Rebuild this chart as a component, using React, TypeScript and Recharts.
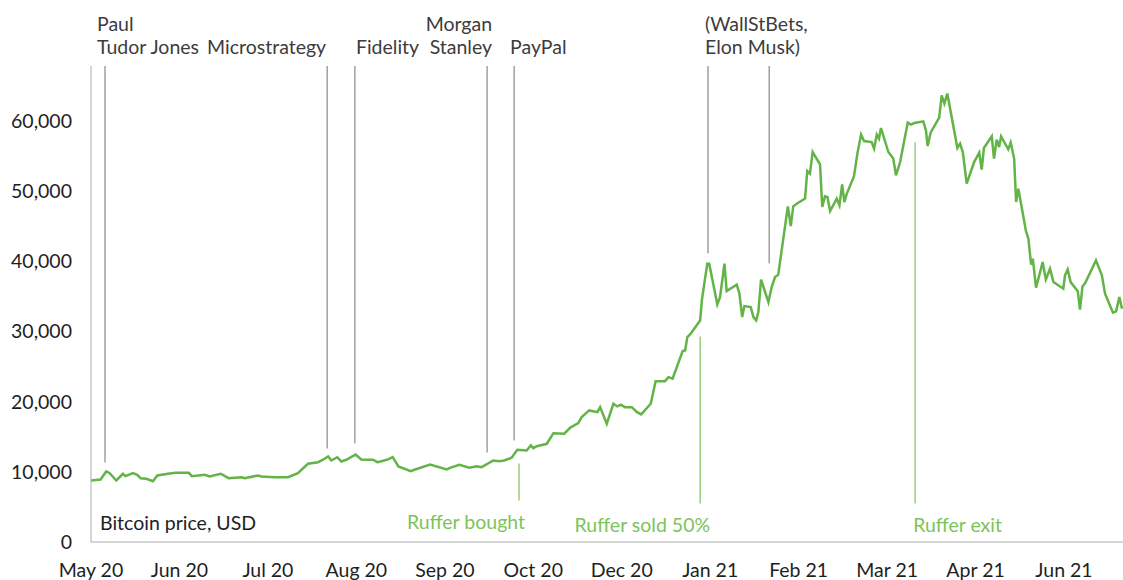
import { LineChart, Line, XAxis, YAxis, ReferenceLine } from 'recharts'

// days since 1 May 2020
const days = [
  0, 3.9, 6.2, 7.6, 10.3, 13.0, 14.0, 17.1, 18.8, 20.2, 22.5, 25.2, 27.0, 31.3, 34.3, 39.8, 41.1, 46.3, 48.3, 52.8,
  56.0, 61.2, 62.6, 68.0, 69.3, 74.8, 80.2, 84.2, 88.3, 92.4, 95.1, 96.5, 97.8, 100.2, 101.9, 103.9, 107.7, 110.0,
  112.0, 114.8, 116.5, 118.2, 120.9, 122.8, 125.1, 130.1, 131.9, 138.0, 144.8, 146.1, 149.9, 154.0, 157.0, 159.0,
  163.7, 166.2, 168.1, 171.2, 173.5, 177.3, 179.0, 180.0, 181.4, 185.5, 188.2, 192.6, 195.0, 198.3, 199.7, 202.8,
  206.1, 207.2, 209.9, 212.6, 214.2, 215.6, 217.3, 220.1, 222.1, 223.9, 227.8, 229.8, 233.6, 235.0, 236.7, 240.8,
  241.8, 242.7, 243.8, 247.9, 248.6, 250.8, 251.6, 254.9, 256.0, 257.8, 258.7, 262.8, 263.9, 265.0, 265.9, 268.5,
  269.6, 270.7, 271.6, 272.7, 275.7, 277.0, 278.4, 279.7, 283.6, 284.8, 285.8, 287.2, 290.6, 291.5, 292.6, 293.7,
  296.7, 297.6, 298.7, 299.7, 300.8, 303.5, 304.6, 305.7, 306.6, 307.6, 310.5, 311.9, 313.4, 314.6, 317.7, 318.7,
  319.8, 320.7, 321.5, 324.5, 326.5, 327.6, 329.3, 332.4, 333.7, 335.1, 338.7, 339.8, 340.5, 341.7, 345.2, 346.2,
  347.3, 348.5, 352.6, 353.7, 354.8, 356.4, 359.4, 361.5, 362.5, 363.4, 366.6, 367.5, 368.6, 369.6, 370.4, 373.3,
  374.3, 375.7, 376.5, 377.4, 380.5, 381.5, 382.6, 383.3, 384.6, 387.3, 388.6, 390.3, 391.7, 395.7, 396.4, 397.5,
  398.7, 401.6, 402.5, 403.5, 404.6, 409.0, 411.4, 412.7, 415.9, 417.2, 418.5, 419.6,
]

const prices = [
  8760, 8910, 10050, 9800, 8760, 9720, 9380, 9800, 9580, 9090, 9010, 8660, 9480, 9720, 9860, 9860, 9380, 9580, 9330, 9720,
  9090, 9230, 9090, 9480, 9330, 9230, 9230, 9800, 11140, 11370, 11860, 12180, 11610, 12080, 11470, 11710, 12470, 11760,
  11710, 11710, 11370, 11510, 11760, 12080, 10760, 10090, 10330, 11040, 10330, 10570, 11000, 10570, 10800, 10660,
  11610, 11510, 11610, 12000, 13140, 13040, 13750, 13370, 13650, 13990, 15500, 15420, 16270, 16930, 17780, 18740,
  18500, 19210, 16840, 19690, 19310, 19550, 19210, 19210, 18530, 18170, 19690, 22910, 22910, 23480, 23260, 27190,
  27290, 29180, 29570, 31560, 34410, 39640, 39640, 33840, 34880, 39640, 35740, 36650, 35370, 32030, 33600, 33460,
  32030, 31560, 32750, 37360, 34170, 36310, 37730, 38080, 47810, 45000, 47810, 48190, 48910, 52840, 52470, 55550,
  53790, 47710, 49230, 49130, 47140, 48910, 47950, 50940, 48420, 49620, 52080, 55320, 58030, 57110, 56970, 56030,
  58030, 57460, 58970, 55550, 54610, 52230, 54120, 59740, 59450, 59680, 59920, 58640, 56400, 58310, 60450, 63630,
  62440, 63870, 56120, 56740, 55550, 51040, 54120, 55460, 53040, 56120, 57780, 54610, 57310, 56260, 57780, 55930,
  56890, 54610, 48420, 50330, 44290, 43210, 39500, 40360, 36220, 39870, 37410, 38930, 37020, 36080, 37980, 38830,
  37020, 35700, 33090, 36410, 36880, 40110, 37980, 35370, 32660, 32850, 34880, 33230,
]

const tickDays = [0, 36, 72, 108, 144, 180, 216, 252, 288, 324, 360, 396]
const tickLabels = [
  'May 20', 'Jun 20', 'Jul 20', 'Aug 20', 'Sep 20', 'Oct 20',
  'Dec 20', 'Jan 21', 'Feb 21', 'Mar 21', 'Apr 21', 'Jun 21',
]
const yTicks = [0, 10000, 20000, 30000, 40000, 50000, 60000]
const yMax = 67800

// news events: day, price level where the line stops, label lines
const events = [
  { day: 5.7, low: 11330, text: ['Paul', 'Tudor Jones'], anchor: 'start', dx: -8 },
  { day: 96.1, low: 13320, text: ['Microstrategy'], anchor: 'end', dx: -1 },
  { day: 107.4, low: 14040, text: ['Fidelity'], anchor: 'start', dx: 1 },
  { day: 161.2, low: 12750, text: ['Morgan', 'Stanley'], anchor: 'end', dx: 5 },
  { day: 172.2, low: 14460, text: ['PayPal'], anchor: 'start', dx: -4 },
  { day: 251.1, low: 41110, text: ['(WallStBets,', 'Elon Musk)'], anchor: 'start', dx: -3 },
  { day: 276.0, low: 39690, text: [], anchor: 'start', dx: 0 },
]

// Ruffer trades: day, top and bottom of the marker
const trades = [
  { day: 174.2, high: 11190, low: 5910, text: 'Ruffer bought', anchor: 'end', dx: 6 },
  { day: 247.9, high: 29280, low: 5490, text: 'Ruffer sold 50%', anchor: 'end', dx: 10 },
  { day: 335.4, high: 56930, low: 5490, text: 'Ruffer exit', anchor: 'start', dx: -2 },
]

const data = days.map((d, i) => ({ day: d, price: prices[i] }))

const FONT = 'Lato, sans-serif'
const FS = 19.5
const LINE_GREEN = '#62b446'
const LIGHT_GREEN = '#7dc35b'

const fmt = (v: number) => v.toLocaleString('en-US')

export default function App() {
  return (
    <div style={{ position: 'absolute', left: 0, top: 0, width: 1123, height: 580, background: '#fff', fontFamily: FONT }}>
      <LineChart width={1123} height={580} data={data} margin={{ top: 66, right: 0, left: 0, bottom: 8 }}>
        <XAxis
          type="number"
          dataKey="day"
          domain={[0, 420]}
          ticks={tickDays}
          interval={0}
          tickFormatter={(v: number) => tickLabels[tickDays.indexOf(v)] ?? ''}
          tickLine={false}
          tickMargin={15}
          height={30}
          stroke="#aaaaaa"
          tick={{ fill: '#1e1e1e', fontSize: FS, fontFamily: FONT }}
        />
        <YAxis
          type="number"
          domain={[0, yMax]}
          ticks={yTicks}
          interval={0}
          tickFormatter={fmt}
          tickLine={false}
          tickMargin={13}
          width={91}
          stroke="#aaaaaa"
          tick={{ fill: '#1e1e1e', fontSize: FS, fontFamily: FONT }}
        />

        {events.map((e, i) => (
          <ReferenceLine
            key={'e' + i}
            segment={[{ x: e.day, y: yMax }, { x: e.day, y: e.low }]}
            stroke="#707070"
            strokeWidth={1}
            label={(p: any) => {
              const vb = p.viewBox
              const n = e.text.length
              return (
                <text
                  x={vb.x + e.dx}
                  textAnchor={e.anchor}
                  fill="#3c3c3c"
                  fontSize={FS}
                  fontFamily={FONT}
                >
                  {e.text.map((t, j) => (
                    <tspan key={j} x={vb.x + e.dx} y={vb.y - 20 - (n - 1 - j) * 23} dominantBaseline="central">
                      {t}
                    </tspan>
                  ))}
                </text>
              )
            }}
          />
        ))}

        {trades.map((t, i) => (
          <ReferenceLine
            key={'t' + i}
            segment={[{ x: t.day, y: t.high }, { x: t.day, y: t.low }]}
            stroke={LIGHT_GREEN}
            strokeWidth={1.2}
            label={(p: any) => {
              const vb = p.viewBox
              return (
                <text
                  x={vb.x + t.dx}
                  y={vb.y + vb.height + 21}
                  textAnchor={t.anchor}
                  dominantBaseline="central"
                  fill={LIGHT_GREEN}
                  fontSize={FS}
                  fontFamily={FONT}
                >
                  {t.text}
                </text>
              )
            }}
          />
        ))}

        <Line
          type="linear"
          dataKey="price"
          stroke={LINE_GREEN}
          strokeWidth={2.5}
          dot={false}
          isAnimationActive={false}
        />
      </LineChart>
      <div
        style={{
          position: 'absolute',
          left: 100,
          top: 512,
          fontSize: FS,
          color: '#1e1e1e',
          lineHeight: '22px',
          fontFamily: FONT,
        }}
      >
        Bitcoin price, USD
      </div>
    </div>
  )
}
